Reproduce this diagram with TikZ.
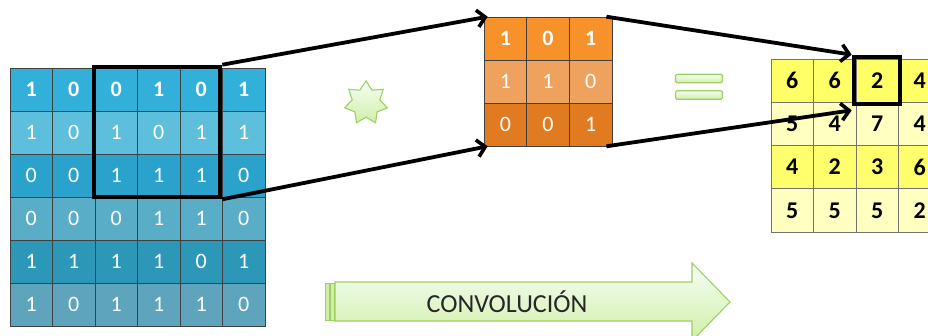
\documentclass[tikz,border=0pt]{standalone}
\usepackage{fontspec}
\setmainfont{Carlito}
\usetikzlibrary{arrows.meta,shapes.geometric}
\definecolor{brow1}{HTML}{33B0D9}
\definecolor{brow2}{HTML}{5EBFDC}
\definecolor{brow3}{HTML}{2AA2CB}
\definecolor{brow4}{HTML}{59ADC6}
\definecolor{brow5}{HTML}{2D97B7}
\definecolor{brow6}{HTML}{5EA4BC}
\definecolor{orow1}{HTML}{F7922A}
\definecolor{orow2}{HTML}{EEA25E}
\definecolor{orow3}{HTML}{E07B22}
\definecolor{yrow1}{HTML}{FFFF66}
\definecolor{yrow2}{HTML}{FFFFC0}
\definecolor{yrow3}{HTML}{FFFF6E}
\definecolor{yrow4}{HTML}{FFFFC0}
\definecolor{gfill}{HTML}{D0EEA8}
\definecolor{gline}{HTML}{9ECF64}
\tikzset{
  cellbase/.style={draw=black!75, line width=0.6pt, inner sep=0pt, minimum height=43pt},
  bcell/.style={cellbase, minimum width=42.5pt, text=white, font=\fontsize{22}{22}\selectfont},
  ocell/.style={cellbase, minimum width=42.7pt, text=white, font=\fontsize{22}{22}\selectfont},
  ycell/.style={cellbase, draw=black!55, minimum width=42.5pt, minimum height=43.25pt, text=black, font=\fontsize{24}{24}\selectfont\bfseries},
  framebox/.style={draw=black, line width=4.6pt, inner sep=0pt},
  conn/.style={draw=black, line width=3.8pt, -{Straight Barb[length=8pt,width=17pt,line width=3.6pt]}},
  greenshape/.style={draw=gline, line width=1.1pt, top color=green!4!white, bottom color=gfill},
  eqbar/.style={greenshape, rounded corners=1.5pt, minimum width=47pt, minimum height=8.5pt, inner sep=0pt},
}
\begin{document}
\begin{tikzpicture}[x=1pt,y=-1pt]
\useasboundingbox (0,0) rectangle (928,336);
% input matrix
\foreach \vals [count=\r] in {{1,0,0,1,0,1},{1,0,1,0,1,1},{0,0,1,1,1,0},{0,0,0,1,1,0},{1,1,1,1,0,1},{1,0,1,1,1,0}}{
  \foreach \v [count=\c] in \vals {
    \node[bcell, fill=brow\r] (a-\r-\c) at ({10+42.5*(\c-0.5)},{68+43*(\r-0.5)}) {\ifnum\r=1 \bfseries\fi\v};
  }
}
% kernel
\foreach \vals [count=\r] in {{1,0,1},{1,1,0},{0,0,1}}{
  \foreach \v [count=\c] in \vals {
    \node[ocell, fill=orow\r] (k-\r-\c) at ({484+42.7*(\c-0.5)},{17+43*(\r-0.5)}) {\ifnum\r=1 \bfseries\fi\v};
  }
}
% output
\foreach \vals [count=\r] in {{6,6,2,4},{5,4,7,4},{4,2,3,6},{5,5,5,2}}{
  \foreach \v [count=\c] in \vals {
    \node[ycell, fill=yrow\r] (o-\r-\c) at ({771+42.5*(\c-0.5)},{59+43.25*(\r-0.5)}) {\v};
  }
}
% frames
\node[framebox, minimum width=126pt, minimum height=130pt] (win) at (157,132) {};
\node[framebox, minimum width=46pt, minimum height=47pt] (tgt) at (877,80.5) {};
% connectors
\draw[conn] (win.north east) -- ([xshift=4pt]k-1-1.north west);
\draw[conn] (win.south east) -- ([xshift=4pt]k-3-1.south west);
\draw[conn] ([xshift=-6pt]k-1-3.north east) -- (tgt.north west);
\draw[conn] ([xshift=-6pt]k-3-3.south east) -- ([yshift=-4pt]tgt.south west);
% star operator
\node[star, star points=7, star point ratio=1.55, minimum size=44pt, inner sep=0pt, greenshape] (op) at (366,103) {};
% equals sign
\node[eqbar] (eq1) at (699,78.5) {};
\node[eqbar] (eq2) at (699,95) {};
% big arrow
\draw[greenshape] (335,282) -- (692,282) -- (692,263) -- (730,302) -- (692,341) -- (692,321) -- (335,321) -- cycle;
\fill[gfill, draw=gline, line width=0.6pt] (325,283) rectangle (329,320);
\fill[gfill, draw=gline, line width=0.6pt] (330,283) rectangle (334,320);
\node[font=\fontsize{26}{26}\selectfont, text=black!85] (lbl) at (507,302) {CONVOLUCIÓN};
\end{tikzpicture}
\end{document}
